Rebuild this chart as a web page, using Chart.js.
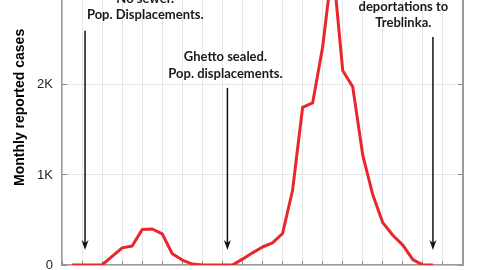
<!DOCTYPE html>
<html>
<head>
<meta charset="utf-8">
<script src="https://cdn.jsdelivr.net/npm/chart.js@4.4.1/dist/chart.umd.min.js"></script>
<style>
  html, body { margin: 0; padding: 0; background: #fff; overflow: hidden; }
  #wrap { position: absolute; left: 0; top: -72px; width: 480px; height: 372px; }
</style>
</head>
<body>
<div id="wrap"><canvas id="typhusChart"></canvas></div>
<script>
// month number since start of series, monthly reported cases
const monthIdx = [1, 2, 3, 4, 5, 6, 7, 8, 9, 10, 11, 12, 13, 14, 15, 16, 17, 18, 19,
  20, 21, 22, 23, 24, 25, 26, 27, 28, 29, 30, 31, 32, 33, 34, 35, 36, 37];
const cases = [0, 0, 0, 0, 95, 190, 210, 395, 400, 345, 125, 55, 10, 0, 0, 0, 0, 65, 135,
  200, 245, 350, 830, 1750, 1800, 2420, 3350, 2160, 1980, 1220, 780, 470, 330, 220, 60, 0, 0];
const yTicks = [0, 1000, 2000, 3000];

// event arrows (month, arrow top in cases) and their notes
const arrowMonth = [2.3, 16.5, 37];
const arrowTop = [2600, 1967, 2533];
const arrowTip = 167;
const noteMonth = [8.3, 16.3, 34.05];
const noteTop = [2960, 2311, 2867];
const noteLines = [
  ['No sewer.', 'Pop. Displacements.'],
  ['Ghetto sealed.', 'Pop. displacements.'],
  ['deportations to', 'Treblinka.']
];

const annotate = {
  id: 'annotate',
  afterDatasetsDraw(chart) {
    const { ctx, scales: { x, y } } = chart;
    ctx.save();
    ctx.strokeStyle = '#111';
    ctx.fillStyle = '#111';
    ctx.lineWidth = 1.5;
    arrowMonth.forEach((m, i) => {
      const px = x.getPixelForValue(m);
      const y0 = y.getPixelForValue(arrowTop[i]);
      const y1 = y.getPixelForValue(arrowTip);
      ctx.beginPath();
      ctx.moveTo(px, y0);
      ctx.lineTo(px, y1 - 6);
      ctx.stroke();
      ctx.beginPath();
      ctx.moveTo(px, y1);
      ctx.lineTo(px - 3.5, y1 - 10);
      ctx.lineTo(px, y1 - 7);
      ctx.lineTo(px + 3.5, y1 - 10);
      ctx.closePath();
      ctx.fill();
    });
    ctx.font = 'bold 13px Lato';
    ctx.textAlign = 'center';
    ctx.textBaseline = 'middle';
    ctx.fillStyle = '#1a1a1a';
    noteLines.forEach((lines, i) => {
      const px = x.getPixelForValue(noteMonth[i]);
      const py = y.getPixelForValue(noteTop[i]);
      lines.forEach((t, j) => ctx.fillText(t, px, py + j * 16.5));
    });
    ctx.restore();
  }
};

const gridColor = '#e6e6e6';
const axisColor = '#9a9a9a';
const fixTicks = s => { s.ticks = yTicks.map(v => ({ value: v })); };

new Chart(document.getElementById('typhusChart'), {
  type: 'line',
  data: {
    datasets: [{
      data: monthIdx.map((m, i) => ({ x: m, y: cases[i] })),
      borderColor: '#e8262c',
      borderWidth: 3,
      pointRadius: 0,
      tension: 0,
      borderJoinStyle: 'round'
    }]
  },
  options: {
    responsive: true,
    maintainAspectRatio: false,
    animation: false,
    layout: { padding: 0 },
    plugins: { legend: { display: false }, tooltip: { enabled: false } },
    scales: {
      x: {
        type: 'linear', min: 0, max: 40,
        ticks: { stepSize: 2, display: false },
        grid: { color: gridColor, tickLength: -4, tickColor: '#888' },
        border: { color: axisColor, width: 1.5 },
        afterFit: s => { s.height = 35; }
      },
      y: {
        position: 'left', min: 0, max: 3500,
        afterBuildTicks: fixTicks,
        ticks: {
          padding: 14, color: '#262626',
          font: { family: 'Liberation Sans', size: 13 },
          callback: v => v === 0 ? '0' : v / 1000 + 'K'
        },
        grid: { color: gridColor, tickLength: -5, tickColor: '#888' },
        border: { color: axisColor, width: 1.5 },
        title: {
          display: true, text: 'Monthly reported cases', color: '#000',
          font: { family: 'Liberation Sans', size: 14, weight: 'bold' },
          padding: { top: 12, bottom: 0 }
        },
        afterFit: s => { s.width = 62; }
      },
      y2: {
        position: 'right', min: 0, max: 3500,
        afterBuildTicks: fixTicks,
        ticks: { display: false },
        grid: { drawOnChartArea: false, tickLength: -5, tickColor: '#888' },
        border: { color: axisColor, width: 2 },
        afterFit: s => { s.width = 17; }
      }
    }
  },
  plugins: [annotate]
});
</script>
</body>
</html>
